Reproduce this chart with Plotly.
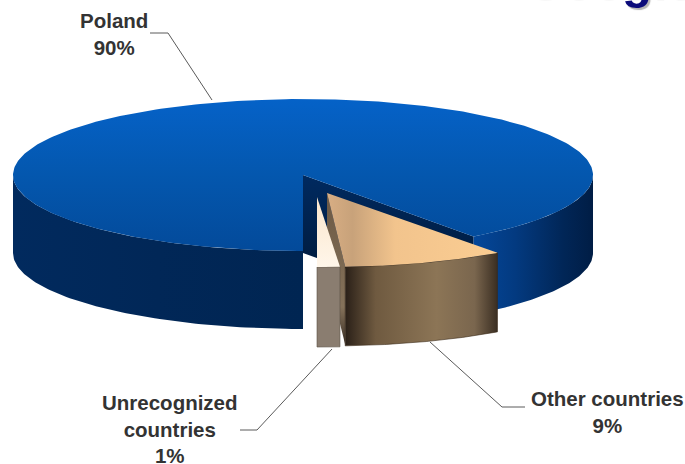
import numpy as np
import plotly.graph_objects as go

# Data
categories = ["Poland", "Other countries", "Unrecognized countries"]
shares = [90, 9, 1]
label_texts = ["Poland<br>90%", "Other countries<br>9%", "Unrecognized<br>countries<br>1%"]

# Pie projection (page pixels)
CX, CY, RX, RY, DEPTH = 303, 175, 290, 76, 78
START_DEG = 90  # Poland starts at the bottom, runs clockwise on screen


def arc(a0, a1, cx=CX, cy=CY, rx=RX, ry=RY, dy=0, n=80):
    t = np.radians(np.linspace(a0, a1, n))
    return cx + rx * np.cos(t), cy + ry * np.sin(t) + dy


def poly(fig, x, y, colors=None, kind="vertical", solid=None, line=None):
    tr = dict(x=list(x) + [x[0]], y=list(y) + [y[0]], mode="lines", fill="toself",
              hoverinfo="skip", showlegend=False, line=dict(width=0.6 if line else 0, color=line or "rgba(0,0,0,0)"))
    if solid:
        tr["fillcolor"] = solid
    else:
        tr["fillgradient"] = dict(type=kind, colorscale=colors)
    fig.add_trace(go.Scatter(**tr))


fracs = np.array(shares) / sum(shares) * 360
cut = START_DEG + fracs[0] - 360          # end of Poland, parametric degrees
tan_a0, tan_a1 = cut, cut + fracs[1]
cream_a0, cream_a1 = tan_a1, tan_a1 + fracs[2]

fig = go.Figure()

# Poland outer walls
xa, ya = arc(0, cut)
xb, yb = arc(cut, 0, dy=DEPTH)
poly(fig, np.r_[xa, xb], np.r_[ya, yb],
     [[0, "#04479a"], [0.35, "#033a80"], [0.75, "#012657"], [1, "#001d45"]], kind="horizontal")
xa, ya = arc(START_DEG, 180)
xb, yb = arc(180, START_DEG, dy=DEPTH)
poly(fig, np.r_[xa, xb], np.r_[ya, yb],
     [[0, "#012a5e"], [0.5, "#012757"], [1, "#002552"]], kind="horizontal")

# Poland cut wall
ex, ey = arc(cut, cut, n=1)
poly(fig, [CX, ex[0], ex[0], CX], [CY, ey[0], ey[0] + DEPTH, CY + DEPTH],
     [[0, "#00142e"], [1, "#002a60"]])

# Poland top
xa, ya = arc(START_DEG, 360 + cut, n=300)
poly(fig, np.r_[CX, xa], np.r_[CY, ya], [[0, "#034a9a"], [0.5, "#0457ae"], [1, "#0562c8"]])

# Other countries: exploded wedge
TX, TY, TRY = 327, 193, 74
xw, yw = arc(tan_a1, tan_a1, cx=TX, cy=TY, ry=TRY, n=1)
poly(fig, [TX, xw[0], xw[0], TX], [TY, yw[0], yw[0] + DEPTH, TY + DEPTH],
     [[0, "#3a2f26"], [0.25, "#85725a"], [1, "#6b5844"]])
xa, ya = arc(tan_a0, tan_a1, cx=TX, cy=TY, ry=TRY)
xb, yb = arc(tan_a1, tan_a0, cx=TX, cy=TY, ry=TRY, dy=DEPTH + 1)
poly(fig, np.r_[xa, xb], np.r_[ya, yb],
     [[0, "#2a2018"], [0.2, "#6f5a40"], [0.6, "#8c7556"], [0.85, "#7a664e"], [1, "#3a2e22"]],
     kind="horizontal", line="#3a2a18")
poly(fig, np.r_[TX, xa], np.r_[TY, ya],
     [[0, "#d8ae84"], [0.15, "#c8a27a"], [0.4, "#f2c48d"], [1, "#fbcd92"]], kind="horizontal")

# Unrecognized countries: exploded wedge
UX, UY, URX, URY = 317, 197, 366, 70
xa, ya = arc(cream_a1, cream_a0, cx=UX, cy=UY, rx=URX, ry=URY, n=12)
poly(fig, np.r_[xa, xa[::-1]], np.r_[ya, ya[::-1] + DEPTH + 2], solid="#8a7d70", line="#5b5044")
poly(fig, np.r_[UX, xa], np.r_[UY, ya], [[0, "#fff6ea"], [1, "#fbe6cc"]])

# Leader lines
LEADERS = [([150, 168, 212], [33, 33, 100]),
           ([430, 502, 525], [342, 407, 407]),
           ([240, 257, 332], [430, 430, 349])]
for lx, ly in LEADERS:
    fig.add_trace(go.Scatter(x=lx, y=ly, mode="lines", line=dict(color="#5a5a5a", width=1),
                             hoverinfo="skip", showlegend=False))

FONT = "Liberation Sans"
LABEL_POS = [(114, 34), (607, 412), (170, 429)]
for (px, py), txt in zip(LABEL_POS, label_texts):
    fig.add_annotation(x=px, y=py, text=f"<b>{txt}</b>", showarrow=False, align="center",
                       font=dict(family=FONT, size=20.5, color="#333333"), xanchor="center", yanchor="middle")

# Slide title cut off by the crop
fig.add_annotation(x=522, y=10, text="<b>Google</b>", showarrow=False, xanchor="left", yanchor="bottom",
                   font=dict(family=FONT, size=49, color="#0b0b7a", shadow="2px 2px 1px #b5b5b5"))

fig.update_layout(width=685, height=464, margin=dict(l=0, r=0, t=0, b=0),
                  paper_bgcolor="white", plot_bgcolor="white", showlegend=False,
                  xaxis=dict(range=[0, 685], visible=False, fixedrange=True),
                  yaxis=dict(range=[464, 0], visible=False, fixedrange=True))
fig.write_html("out.html", config=dict(displayModeBar=False),
               post_script="document.body.style.margin='0';document.body.style.overflow='hidden';")
